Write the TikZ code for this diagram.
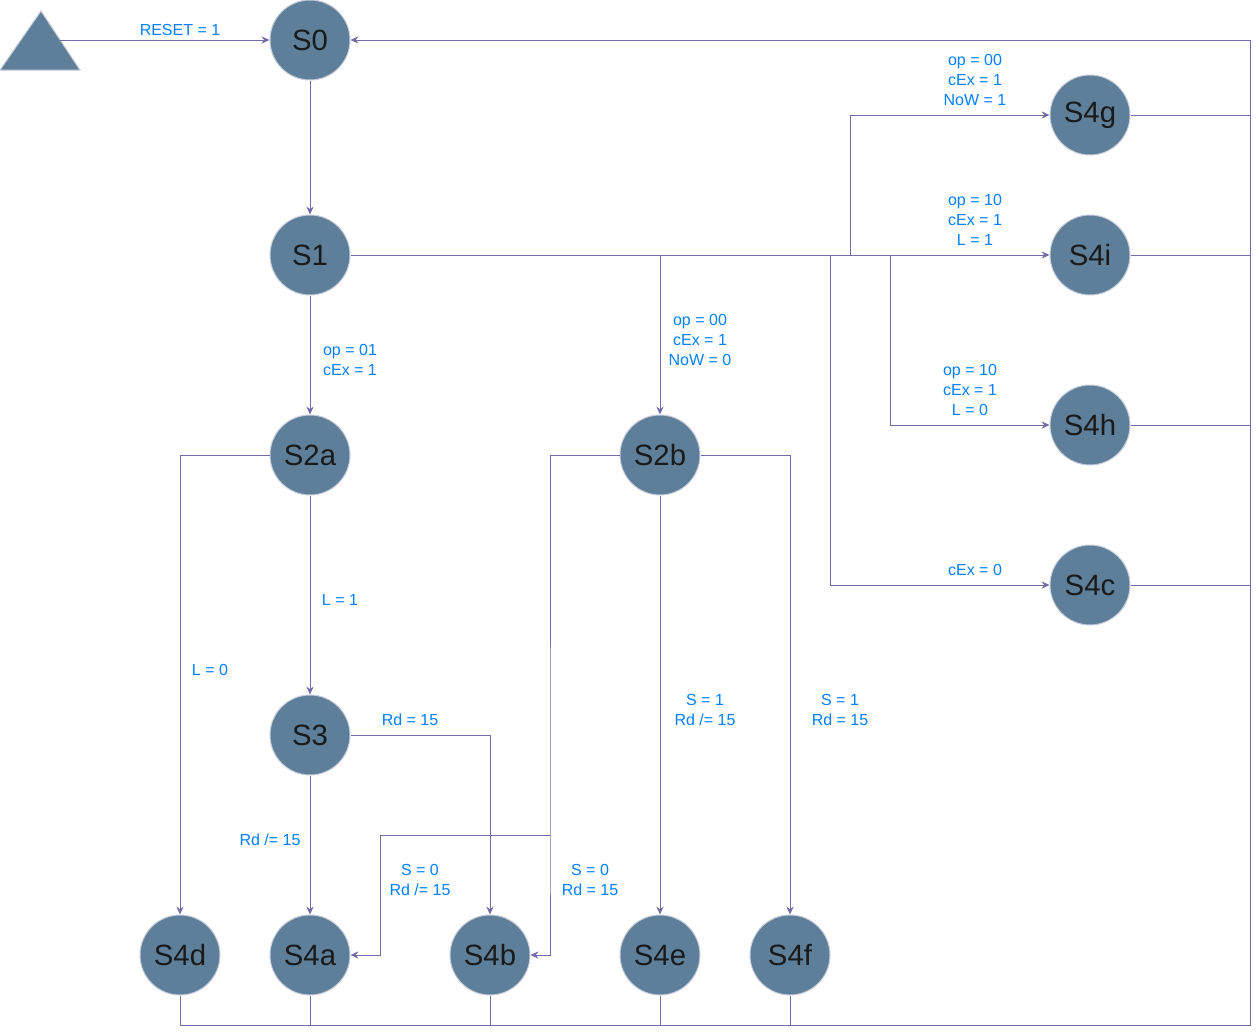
\documentclass[tikz,border=0pt]{standalone}
\usepackage{fontspec}
\setmainfont{Liberation Sans}
\usetikzlibrary{arrows.meta}

\definecolor{statefill}{HTML}{5D7F99}
\definecolor{stateline}{HTML}{C8CCDA}
\definecolor{linkcol}{HTML}{736CA8}
\definecolor{condcol}{HTML}{007FFF}
\definecolor{statetext}{HTML}{1A1A1A}

\tikzset{
	state/.style={ fill=statefill
	             , draw=stateline
	             , circle
	             , minimum size=60pt
	             , inner sep=0
	             , text=statetext
	             , font=\fontsize{22}{26}\selectfont
	             },
	link/.style={draw=linkcol, -{Stealth[length=6pt, width=5.5pt, inset=2pt]}},
	bus/.style={draw=linkcol},
	cond/.style={ text=condcol
	            , font=\fontsize{12}{15}\selectfont
	            , align=center
	            , inner sep=0
	            },
}

\begin{document}
\begin{tikzpicture}[x=0.75pt, y=-0.75pt, line width=0.75pt]
	\useasboundingbox (0,0) rectangle (1259,1035);
	
	% Start
	\filldraw [fill=statefill, draw=stateline] (0,70) -- (41,11) -- (80,70) -- cycle;
	\coordinate (start) at (60,40);
	
	% States
	\foreach \name/\x/\y in {S0/310/40, S1/310/255, S2a/310/455, S2b/660/455,
	                         S3/310/735, S4d/180/955, S4a/310/955, S4b/490/955,
	                         S4e/660/955, S4f/790/955, S4g/1090/115,
	                         S4i/1090/255, S4h/1090/425, S4c/1090/585}{
		\node (\name) [state] at (\x, \y) {\name};
	}
	
	% Junctions
	\coordinate (jc) at (830, 255);
	\coordinate (jg) at (850, 255);
	\coordinate (jh) at (890, 255);
	\coordinate (ja) at (380, 835);
	\coordinate (jb) at (550, 835);
	\coordinate (busSE) at (1250, 1025);
	\coordinate (busNE) at (1250, 40);
	
	% Links
	\draw [link] (start) -- (S0.west);
	\draw [link] (S0) -- (S1);
	\draw [link] (S1) -- (S2a);
	\draw [link] (S2a) -- (S3);
	\draw [link] (S3) -- (S4a);
	\draw [link] (S2b) -- (S4e);
	\draw [link] (S1.east) -- (S4i.west);
	\draw [link] (S1.east) -| (S2b.north);
	\draw [link] (jg) |- (S4g.west);
	\draw [link] (jh) |- (S4h.west);
	\draw [link] (jc) |- (S4c.west);
	\draw [link] (S2a.west) -| (S4d.north);
	\draw [link] (S3.east) -| (S4b.north);
	\draw [link] (S2b.east) -| (S4f.north);
	\draw [link] (S2b.west) -| (jb) |- (S4b.east);
	\draw [link] (jb) -- (ja) |- (S4a.east);
	
	% Return to S0
	\foreach \s in {S4d,S4a,S4b,S4e,S4f}{
		\draw [bus] (\s.south) -- (\s.south |- busSE);
	}
	\foreach \s in {S4g,S4i,S4h,S4c}{
		\draw [bus] (\s.east) -- (\s.east -| busSE);
	}
	\draw [bus] (S4d.south |- busSE) -- (busSE) -- (busNE);
	\draw [link] (busNE) -- (S0.east);
	
	% Conditions
	\foreach [count=\i] \x/\y/\lab in {180/30/{RESET = 1},
	                                   975/80/{op = 00\\cEx = 1\\NoW = 1},
	                                   975/220/{op = 10\\cEx = 1\\L = 1},
	                                   970/390/{op = 10\\cEx = 1\\L = 0},
	                                   975/570/{cEx = 0},
	                                   700/340/{op = 00\\cEx = 1\\NoW = 0},
	                                   350/360/{op = 01\\cEx = 1},
	                                   340/600/{L = 1},
	                                   210/670/{L = 0},
	                                   410/720/{Rd = 15},
	                                   270/840/{Rd /= 15},
	                                   420/880/{S = 0\\Rd /= 15},
	                                   590/880/{S = 0\\Rd = 15},
	                                   705/710/{S = 1\\Rd /= 15},
	                                   840/710/{S = 1\\Rd = 15}}{
		\node (cond\i) [cond] at (\x, \y) {\lab};
	}
\end{tikzpicture}
\end{document}
